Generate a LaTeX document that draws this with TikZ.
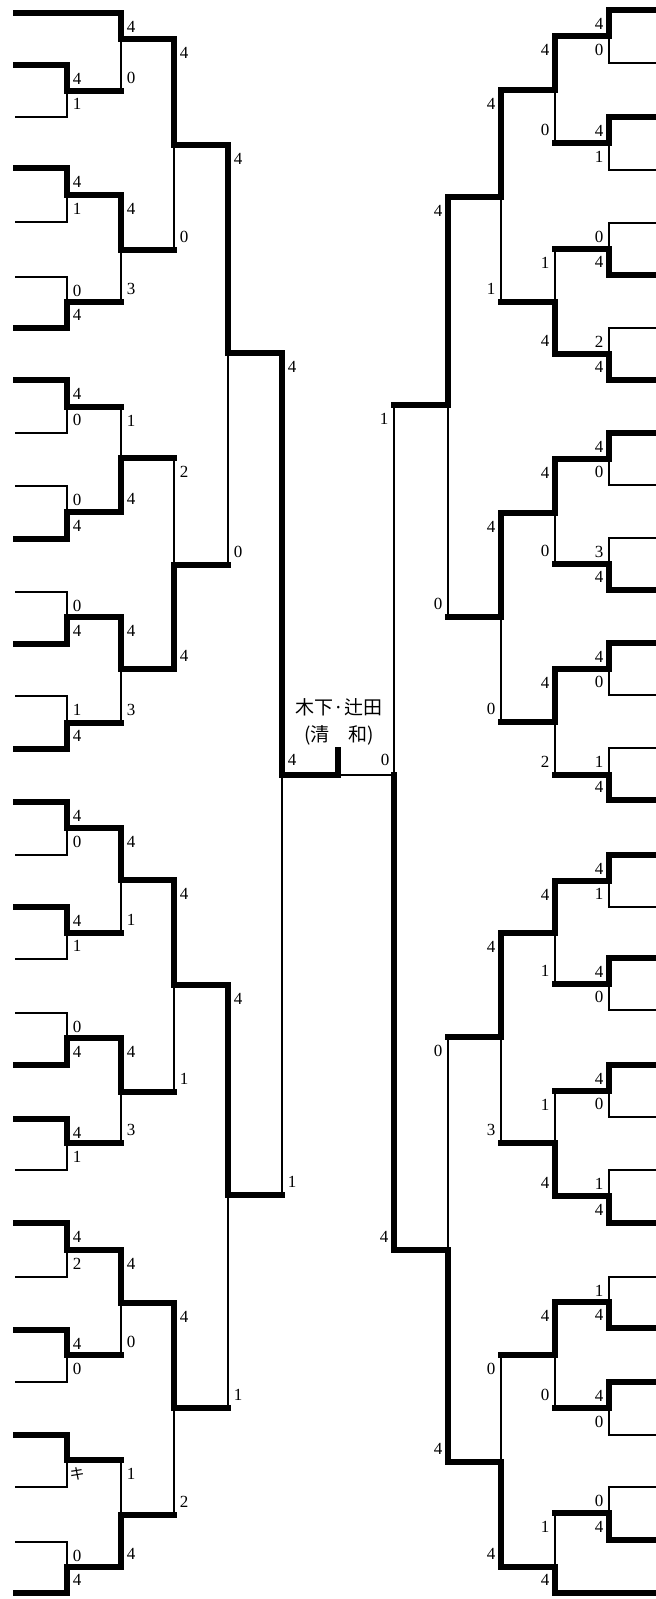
\documentclass[tikz,border=0pt]{standalone}
\usepackage{fontspec}
\setmainfont{Liberation Serif}
\newfontfamily\cjk{Noto Sans CJK JP}
\tikzset{
  win/.style={line width=5.4pt, line cap=rect, line join=miter},
  lose/.style={line width=1.6pt, line cap=rect},
  score/.style={inner sep=0pt, font=\fontsize{17}{17}\selectfont},
  title/.style={inner sep=0pt, font=\cjk\fontsize{19}{19}\selectfont},
}
\newcommand\lo{+10}
% match: #1 xv, #2 ytop, #3 ybot, #4 yout, #5 xnext, #6 T/B winner, #7 top score, #8 bottom score, #9 name
\newcommand\Mt[9]{%
  \ifx T#6\relax
    \draw[win] (#1,#2) -- (#1,#4) -- (#5,#4);
    \draw[lose] (#1,#4) -- (#1,#3);
  \else
    \draw[win] (#1,#3) -- (#1,#4) -- (#5,#4);
    \draw[lose] (#1,#4) -- (#1,#2);
  \fi
  \node[score] (#9t) at (#1\lo,#2+14) {#7};
  \node[score] (#9b) at (#1\lo,#3-13) {#8};
}
% left first round: #1 ytop, #2 ybot, #3 yout, #4 T/B, #5 s1, #6 s2, #7 name
\newcommand\Lone[7]{%
  \ifx T#4\relax
    \draw[win] (16,#1) -- (67,#1); \draw[lose] (16,#2) -- (67,#2);
  \else
    \draw[lose] (16,#1) -- (67,#1); \draw[win] (16,#2) -- (67,#2);
  \fi
  \Mt{67}{#1}{#2}{#3}{121}{#4}{#5}{#6}{#7}}
\newcommand\Rone[7]{%
  \ifx T#4\relax
    \draw[win] (658,#1) -- (609,#1); \draw[lose] (658,#2) -- (609,#2);
  \else
    \draw[lose] (658,#1) -- (609,#1); \draw[win] (658,#2) -- (609,#2);
  \fi
  \Mt{609}{#1}{#2}{#3}{555}{#4}{#5}{#6}{#7}}
\begin{document}
\begin{tikzpicture}[x=1pt,y=-1pt]
\useasboundingbox (0,0) rectangle (656,1599);
\fill[white] (0,0) rectangle (656,1599);
% ---------------- LEFT ----------------
\renewcommand\lo{+10}
\draw[win] (16,13) -- (121,13);
\Lone{65}{117}{91}{T}{4}{1}{LA}
\Lone{168}{222}{195}{T}{4}{1}{LB}
\Lone{277}{328}{302}{B}{0}{4}{LC}
\Lone{380}{433}{407}{T}{4}{0}{LD}
\Lone{486}{539}{512}{B}{0}{4}{LE}
\Lone{592}{644}{617}{B}{0}{4}{LF}
\Lone{696}{749}{723}{B}{1}{4}{LG}
\Lone{802}{855}{828}{T}{4}{0}{LH}
\Lone{907}{959}{933}{T}{4}{1}{LI}
\Lone{1013}{1065}{1038}{B}{0}{4}{LJ}
\Lone{1119}{1170}{1143}{T}{4}{1}{LK}
\Lone{1223}{1277}{1250}{T}{4}{2}{LL}
\Lone{1330}{1382}{1355}{T}{4}{0}{LM}
\Lone{1435}{1487}{1460}{T}{}{{\cjk\fontsize{15}{15}\selectfont キ}}{LN}
\Lone{1542}{1593}{1567}{B}{0}{4}{LO}
% round 2
\Mt{121}{13}{91}{39}{174}{T}{4}{0}{L2a}
\Mt{121}{195}{302}{250}{174}{T}{4}{3}{L2b}
\Mt{121}{407}{512}{458}{174}{B}{1}{4}{L2c}
\Mt{121}{617}{723}{669}{174}{T}{4}{3}{L2d}
\Mt{121}{828}{933}{880}{174}{T}{4}{1}{L2e}
\Mt{121}{1038}{1143}{1092}{174}{T}{4}{3}{L2f}
\Mt{121}{1250}{1355}{1303}{174}{T}{4}{0}{L2g}
\Mt{121}{1460}{1567}{1515}{174}{B}{1}{4}{L2h}
% round 3
\Mt{174}{39}{250}{145}{228}{T}{4}{0}{L3a}
\Mt{174}{458}{669}{565}{228}{B}{2}{4}{L3b}
\Mt{174}{880}{1092}{985}{228}{T}{4}{1}{L3c}
\Mt{174}{1303}{1515}{1408}{228}{T}{4}{2}{L3d}
% round 4
\Mt{228}{145}{565}{353}{282}{T}{4}{0}{L4a}
\Mt{228}{985}{1408}{1195}{282}{T}{4}{1}{L4b}
% round 5
\Mt{282}{353}{1195}{775}{338}{T}{4}{1}{L5}
% ---------------- RIGHT ----------------
\renewcommand\lo{-10}
\draw[win] (658,1593) -- (555,1593);
\Rone{10}{63}{36}{T}{4}{0}{RA}
\Rone{117}{170}{143}{T}{4}{1}{RB}
\Rone{223}{275}{249}{B}{0}{4}{RC}
\Rone{328}{380}{354}{B}{2}{4}{RD}
\Rone{433}{485}{459}{T}{4}{0}{RE}
\Rone{538}{590}{564}{B}{3}{4}{RF}
\Rone{643}{695}{669}{T}{4}{0}{RG}
\Rone{748}{800}{775}{B}{1}{4}{RH}
\Rone{855}{907}{881}{T}{4}{1}{RI}
\Rone{958}{1010}{984}{T}{4}{0}{RJ}
\Rone{1065}{1117}{1091}{T}{4}{0}{RK}
\Rone{1170}{1223}{1196}{B}{1}{4}{RL}
\Rone{1277}{1328}{1302}{B}{1}{4}{RM}
\Rone{1382}{1435}{1408}{T}{4}{0}{RN}
\Rone{1487}{1540}{1513}{B}{0}{4}{RO}
% round 2
\Mt{555}{36}{143}{90}{501}{T}{4}{0}{R2a}
\Mt{555}{249}{354}{302}{501}{B}{1}{4}{R2b}
\Mt{555}{459}{564}{513}{501}{T}{4}{0}{R2c}
\Mt{555}{669}{775}{722}{501}{T}{4}{2}{R2d}
\Mt{555}{881}{984}{933}{501}{T}{4}{1}{R2e}
\Mt{555}{1091}{1196}{1143}{501}{B}{1}{4}{R2f}
\Mt{555}{1302}{1408}{1355}{501}{T}{4}{0}{R2g}
\Mt{555}{1513}{1593}{1567}{501}{B}{1}{4}{R2h}
% round 3
\Mt{501}{90}{302}{197}{448}{T}{4}{1}{R3a}
\Mt{501}{513}{722}{617}{448}{T}{4}{0}{R3b}
\Mt{501}{933}{1143}{1037}{448}{T}{4}{3}{R3c}
\Mt{501}{1355}{1567}{1462}{448}{B}{0}{4}{R3d}
% round 4
\Mt{448}{197}{617}{405}{394}{T}{4}{0}{R4a}
\Mt{448}{1037}{1462}{1250}{394}{B}{0}{4}{R4b}
% round 5 (right)
\coordinate (R5top) at (394,405);
\coordinate (R5bot) at (394,1250);
\coordinate (R5out) at (394,775);
\coordinate (Fmid) at (338,775);
\coordinate (Ftick) at (338,750);
\draw[win] (R5bot) -- (R5out);
\draw[lose] (R5out) -- (R5top);
\draw[lose] (R5out) -- (Fmid);
\node[score] (R5t) at (384,419) {1};
\node[score] (R5b) at (384,1237) {4};
% ---------------- FINAL ----------------
\draw[win] (Fmid) -- (Ftick);
\node[score] (Fl) at (292,760) {4};
\node[score] (Fr) at (385,760) {0};
\node[title] (champ) at (339,707) {木下·辻田};
\node[title] (school) at (339,735) {(清　和)};
\end{tikzpicture}
\end{document}
